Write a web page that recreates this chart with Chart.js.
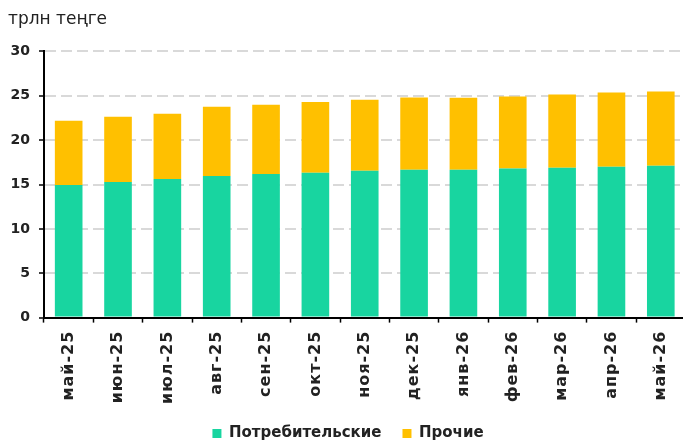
<!DOCTYPE html>
<html>
<head>
<meta charset="utf-8">
<script src="https://cdn.jsdelivr.net/npm/chart.js@4"></script>
<style>
  html, body { margin: 0; padding: 0; overflow: hidden; background: #fff; }
  #wrap { width: 688px; height: 440px; }
</style>
</head>
<body>
<div id="wrap"><canvas id="loans"></canvas></div>
<script>
const months = ['май-25', 'июн-25', 'июл-25', 'авг-25', 'сен-25', 'окт-25', 'ноя-25',
  'дек-25', 'янв-26', 'фев-26', 'мар-26', 'апр-26', 'май-26'];
const consumer = [14.94, 15.28, 15.62, 15.96, 16.18, 16.33, 16.56, 16.67, 16.66, 16.79, 16.9, 17.01, 17.12];
const other = [7.24, 7.35, 7.35, 7.79, 7.8, 7.98, 7.98, 8.13, 8.13, 8.12, 8.23, 8.35, 8.35];
const yTicks = [0, 5, 10, 15, 20, 25, 30];

const font = 'DejaVu Sans';

// month labels in the original are a little wider
const spacedLabels = {
  id: 'spacedLabels',
  beforeDraw(chart) {
    const x = chart.scales.x;
    if (x._spaced) return;
    const orig = x.drawLabels.bind(x);
    x.drawLabels = (area) => {
      const ctx = chart.ctx;
      ctx.save();
      ctx.letterSpacing = '1px';
      orig(area);
      ctx.restore();
    };
    x._spaced = true;
  },
};

new Chart(document.getElementById('loans'), {
  type: 'bar',
  data: {
    labels: months,
    datasets: [
      {
        label: 'Потребительские',
        data: consumer,
        backgroundColor: 'rgb(24, 213, 160)',
        barPercentage: 0.56,
        categoryPercentage: 1,
      },
      {
        label: 'Прочие',
        data: other,
        backgroundColor: 'rgb(255, 192, 0)',
        barPercentage: 0.56,
        categoryPercentage: 1,
      },
    ],
  },
  plugins: [spacedLabels],
  options: {
    responsive: true,
    maintainAspectRatio: false,
    animation: false,
    layout: { padding: { left: 8, right: 0, top: 4, bottom: -11 } },
    plugins: {
      title: {
        display: true,
        text: 'трлн теңге',
        align: 'start',
        color: '#222',
        font: { family: font, size: 17, weight: 'normal' },
        padding: { top: 5, bottom: 22 },
      },
      legend: {
        position: 'bottom',
        labels: {
          boxWidth: 9,
          boxHeight: 9,
          color: '#222',
          padding: 21,
          font: { family: font, size: 15, weight: 'bold' },
        },
      },
      tooltip: { enabled: false },
    },
    scales: {
      x: {
        stacked: true,
        afterFit: (axis) => { axis.height -= 1; },
        grid: { drawOnChartArea: false, tickLength: 5, tickColor: '#000', tickWidth: 1.5 },
        border: { color: '#000', width: 2 },
        ticks: {
          minRotation: 90,
          maxRotation: 90,
          color: '#222',
          padding: 8,
          font: { family: font, size: 16, weight: 'bold' },
        },
      },
      y: {
        stacked: true,
        min: 0,
        max: 30,
        afterFit: (axis) => { axis.width = 36; },
        afterBuildTicks: (axis) => { axis.ticks = yTicks.map((v) => ({ value: v })); },
        grid: { color: '#d9d9d9', lineWidth: 2, tickLength: 5, tickColor: '#000', tickWidth: 1.5 },
        border: { color: '#000', width: 2, dash: [11, 5] },
        ticks: {
          color: '#222',
          padding: 9,
          font: { family: font, size: 14, weight: 'bold' },
        },
      },
    },
  },
});
</script>
</body>
</html>
